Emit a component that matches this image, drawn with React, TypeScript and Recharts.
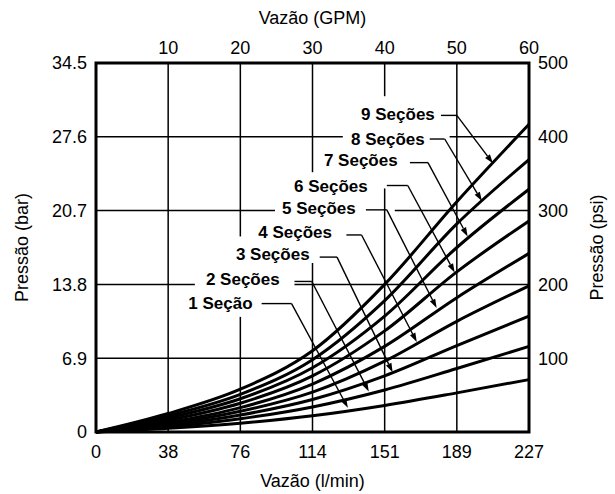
import React from 'react';
import { LineChart, Line, XAxis, YAxis, ReferenceLine, ReferenceDot, ReferenceArea } from 'recharts';

// Flow in GPM (top axis) – bottom axis shows the same points in l/min
const gpm = [0, 10, 20, 30, 40, 50, 60];
// Pressure in psi for each number of sections
const sec1 = [0, 5, 12, 22, 36, 53, 71];
const sec2 = [0, 7, 18, 34, 57, 86, 116];
const sec3 = [0, 9, 23, 44, 76, 117, 157];
const sec4 = [0, 11, 28, 54, 96, 150, 198];
const sec5 = [0, 13, 33, 65, 116, 182, 242];
const sec6 = [0, 16, 39, 76, 137, 217, 286];
const sec7 = [0, 19, 45, 87, 157, 250, 329];
const sec8 = [0, 22, 51, 98, 178, 282, 369];
const sec9 = [0, 25, 58, 110, 200, 312, 417];
const series = [sec1, sec2, sec3, sec4, sec5, sec6, sec7, sec8, sec9];

const bottomTicks = [0, 10, 20, 30, 40, 50, 60];
const bottomLabels = ['0', '38', '76', '114', '151', '189', '227'];
const topTicks = [10, 20, 30, 40, 50, 60];
const leftTicks = [0, 100, 200, 300, 400, 500];
const leftLabels = ['0', '6.9', '13.8', '20.7', '27.6', '34.5'];
const rightTicks = [100, 200, 300, 400, 500];

const sectionNames = ['1 Seção', '2 Seções', '3 Seções', '4 Seções', '5 Seções', '6 Seções', '7 Seções', '8 Seções', '9 Seções'];
// callout anchors (data units: GPM, psi)
const labelGpm = [21.7, 25.45, 29.6, 32.7, 36.0, 37.65, 41.8, 45.56, 46.95];
const labelPsi = [174, 207, 241, 270, 303, 332, 368, 397, 430];
const leaderStartGpm = [22.95, 27.5, 31.0, 34.7, 37.4, 40.3, 43.5, 46.24, 47.8];
const leaderElbowGpm = [27.1, 29.9, 33.4, 36.8, 40.3, 43.2, 46.0, 48.32, 50.0];
const leaderPsi = [174, 204, 237, 267, 301, 334, 365, 397, 429];
const tipGpm = [34.9, 37.8, 41.1, 44.45, 47.2, 49.7, 51.5, 53.47, 55.0];
const tipPsi = [33, 55, 81, 122, 168, 216, 265, 313, 364];

// grid segments (with gaps where the callouts sit)
const vGridX = [10, 20, 20, 30, 30, 40, 40, 50];
const vGridFrom = [0, 0, 265, 0, 352, 0, 455, 0];
const vGridTo = [500, 156, 500, 229, 500, 330, 500, 500];
const hGridY = [100, 200, 200, 300, 300, 400, 400];
const hGridFrom = [0, 0, 27.5, 0, 41.4, 0, 49];
const hGridTo = [60, 13.7, 60, 24.8, 60, 34.2, 60];

const data = gpm.map((g, i) => {
  const row: Record<string, number> = { gpm: g };
  series.forEach((s, k) => { row['s' + (k + 1)] = s[i]; });
  return row;
});

const FONT = '"Liberation Sans", Arial, Helvetica, sans-serif';
const tickStyle = { fill: '#000', fontSize: 18, fontFamily: FONT };

const Arrow = (p: any) => {
  const { x1, y1, x2, y2 } = p;
  const dx = x2 - x1, dy = y2 - y1;
  const len = Math.hypot(dx, dy) || 1;
  const ux = dx / len, uy = dy / len;
  const L = 9, W = 3;
  const bx = x2 - ux * L, by = y2 - uy * L;
  return (
    <g>
      <line x1={x1} y1={y1} x2={bx} y2={by} stroke="#000" strokeWidth={1.4} />
      <polygon points={`${x2},${y2} ${bx - uy * W},${by + ux * W} ${bx + uy * W},${by - ux * W}`} fill="#000" />
    </g>
  );
};

const makeText = (txt: string) => (p: any) => (
  <text x={p.cx} y={p.cy} textAnchor="end" dominantBaseline="central" fontFamily={FONT} fontSize={17} fontWeight="bold" fill="#000">
    {txt}
  </text>
);

const title = (txt: string, kind: string) => (props: any) => {
  const vb = props.viewBox || {};
  const x = vb.x ?? 0, y = vb.y ?? 0, w = vb.width ?? 0, h = vb.height ?? 0;
  let tx = 0, ty = 0, rot = 0;
  if (kind === 'top') { tx = x + w / 2; ty = y + 18; }
  if (kind === 'bottom') { tx = x + w / 2; ty = y + h - 13; }
  if (kind === 'left') { tx = x + 22; ty = y + h / 2; rot = -90; }
  if (kind === 'right') { tx = x + w - 18; ty = y + h / 2; rot = -90; }
  return (
    <text x={tx} y={ty} textAnchor="middle" dominantBaseline="central" fontFamily={FONT} fontSize={18} fill="#000"
      transform={rot ? `rotate(${rot}, ${tx}, ${ty})` : undefined}>
      {txt}
    </text>
  );
};

export default function App() {
  return (
    <div style={{ position: 'absolute', left: 0, top: 0, width: 615, height: 494, background: '#fff' }}>
      <LineChart width={615} height={494} data={data} margin={{ top: 0, right: 0, bottom: 0, left: 0 }}>
        <XAxis xAxisId="bottom" dataKey="gpm" type="number" domain={[0, 60]} ticks={bottomTicks} interval={0}
          orientation="bottom" height={62} axisLine={false} tickLine={false} tickSize={0} tickMargin={13}
          tick={tickStyle} tickFormatter={(v: number) => bottomLabels[bottomTicks.indexOf(v)] ?? ''}
          label={{ content: title('Vazão (l/min)', 'bottom') }} />
        <XAxis xAxisId="top" dataKey="gpm" type="number" domain={[0, 60]} ticks={topTicks} interval={0}
          orientation="top" height={63} axisLine={false} tickLine={false} tickSize={0} tickMargin={9}
          tick={tickStyle} label={{ content: title('Vazão (GPM)', 'top') }} />
        <YAxis yAxisId="left" type="number" domain={[0, 500]} ticks={leftTicks} interval={0}
          orientation="left" width={96} axisLine={false} tickLine={false} tickSize={0} tickMargin={9}
          tick={tickStyle} tickFormatter={(v: number) => leftLabels[leftTicks.indexOf(v)] ?? ''}
          label={{ content: title('Pressão (bar)', 'left') }} />
        <YAxis yAxisId="right" type="number" domain={[0, 500]} ticks={rightTicks} interval={0}
          orientation="right" width={86} axisLine={false} tickLine={false} tickSize={0} tickMargin={9}
          tick={tickStyle} label={{ content: title('Pressão (psi)', 'right') }} />

        {vGridX.map((x, i) => (
          <ReferenceLine key={'vg' + i} xAxisId="bottom" yAxisId="left" stroke="#000" strokeWidth={1.5}
            segment={[{ x, y: vGridFrom[i] }, { x, y: vGridTo[i] }]} />
        ))}
        {hGridY.map((y, i) => (
          <ReferenceLine key={'hg' + i} xAxisId="bottom" yAxisId="left" stroke="#000" strokeWidth={1.5}
            segment={[{ x: hGridFrom[i], y }, { x: hGridTo[i], y }]} />
        ))}

        {/* binds the secondary (top / right) axes */}
        <Line xAxisId="top" yAxisId="right" dataKey="s1" type="monotone" stroke="transparent" strokeWidth={0}
          dot={false} activeDot={false} isAnimationActive={false} />

        {series.map((_, k) => (
          <Line key={'s' + k} xAxisId="bottom" yAxisId="left" dataKey={'s' + (k + 1)} type="monotone"
            stroke="#000" strokeWidth={3} dot={false} activeDot={false} isAnimationActive={false} />
        ))}

        {sectionNames.map((n, k) => (
          <ReferenceLine key={'lh' + k} xAxisId="bottom" yAxisId="left" stroke="#000" strokeWidth={1.4}
            segment={[{ x: leaderStartGpm[k], y: leaderPsi[k] }, { x: leaderElbowGpm[k], y: leaderPsi[k] }]} />
        ))}
        {sectionNames.map((n, k) => (
          <ReferenceLine key={'ld' + k} xAxisId="bottom" yAxisId="left" shape={Arrow}
            segment={[{ x: leaderElbowGpm[k], y: leaderPsi[k] }, { x: tipGpm[k], y: tipPsi[k] }]} />
        ))}
        {sectionNames.map((n, k) => (
          <ReferenceDot key={'lt' + k} xAxisId="bottom" yAxisId="left" x={labelGpm[k]} y={labelPsi[k]}
            r={1} shape={makeText(n)} />
        ))}

        <ReferenceArea xAxisId="bottom" yAxisId="left" x1={0} x2={60} y1={0} y2={500}
          fill="none" fillOpacity={0} stroke="#000" strokeWidth={3} ifOverflow="visible" />
      </LineChart>
    </div>
  );
}
